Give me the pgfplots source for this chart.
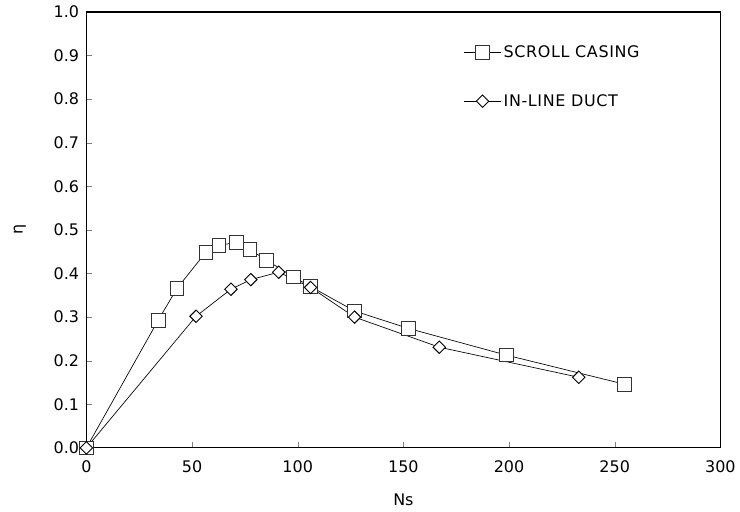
\documentclass[border=0pt]{standalone}
\usepackage{fontspec}
\setmainfont{DejaVu Sans}
\usepackage{pgfplots}
\pgfplotsset{compat=1.18}
\begin{document}
\begin{tikzpicture}
\begin{axis}[
  scale only axis,
  width=477pt,
  height=328pt,
  xmin=0, xmax=300,
  ymin=0, ymax=1.0,
  xtick={0,50,...,300},
  ytick={0,0.1,...,1.0},
  tick pos=left,
  tick align=inside,
  major tick length=4.5pt,
  font=\fontsize{12}{14}\selectfont,
  /pgf/number format/assume math mode=true,
  yticklabel style={xshift=-2pt,/pgf/number format/.cd,fixed,fixed zerofill,precision=1},
  xticklabel style={yshift=-6pt},
  xlabel={Ns},
  ylabel={η},
  xlabel style={yshift=-9pt},
  ylabel style={yshift=14pt},
  axis line style={line width=0.9pt},
  legend style={at={(0.589,0.935)},anchor=north west,draw=none,fill=none,
    row sep=22pt,font=\fontsize{12}{14}\selectfont\addfontfeatures{LetterSpace=4}},
  legend cell align=left,
  legend image code/.code={
    \draw[mark repeat=2,mark phase=2,#1] plot coordinates {(0cm,0cm)(0.48cm,0cm)(0.96cm,0cm)};},
]
\addplot[black,line width=0.5pt,mark=square*,mark size=5.2pt,mark options={fill=white,line width=0.7pt,draw=black!80}] coordinates {
  (0,0) (34.0,0.293) (42.9,0.366) (56.6,0.449) (62.7,0.465) (71.2,0.471)
  (77.4,0.455) (85.4,0.430) (98.1,0.392) (106.1,0.370) (126.9,0.314)
  (152.4,0.274) (198.6,0.213) (254.7,0.146)
};
\addplot[black,line width=0.5pt,mark=square*,mark size=3.3pt,mark options={rotate=45,fill=white,line width=0.7pt,draw=black}] coordinates {
  (0,0) (51.9,0.302) (68.4,0.364) (77.8,0.386) (91.0,0.403) (106.1,0.368)
  (126.9,0.300) (167.0,0.231) (233.0,0.162)
};
\legend{SCROLL CASING,IN-LINE DUCT}
\end{axis}
\path (current axis.south west) ++(-65pt,-48pt);
\path (current axis.north east) ++(13pt,9pt);
\end{tikzpicture}
\end{document}
